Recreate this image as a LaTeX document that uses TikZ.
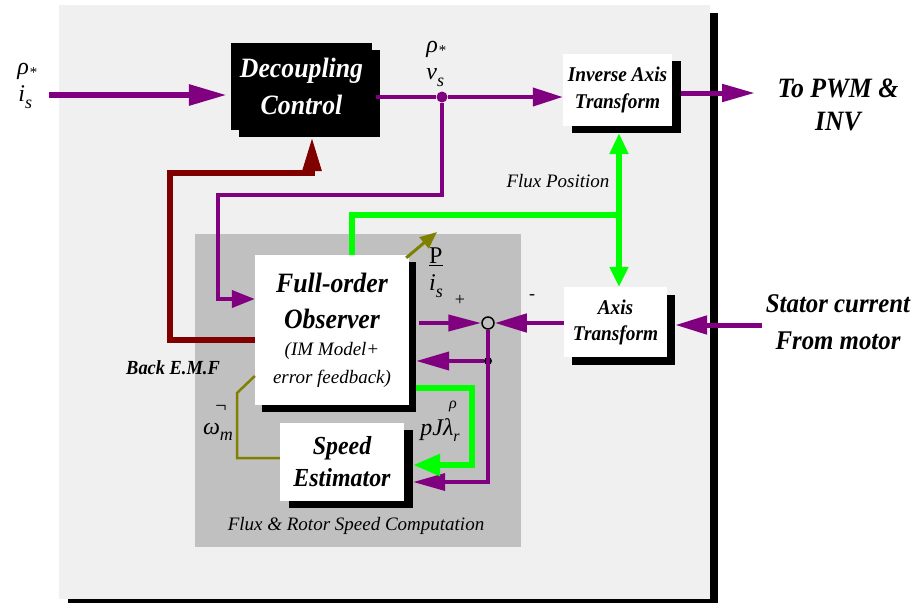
\documentclass[tikz,border=0pt]{standalone}
\usepackage{fontspec}
\setmainfont{Liberation Serif}
\newfontfamily\bfc[FakeStretch=0.92]{Liberation Serif}
\usetikzlibrary{arrows.meta,shadows}
\definecolor{pur}{HTML}{800080}
\definecolor{dred}{HTML}{800000}
\definecolor{lgreen}{HTML}{00FF00}
\definecolor{olv}{HTML}{808000}
\definecolor{panel}{HTML}{F0F0F0}
\definecolor{innergray}{HTML}{C0C0C0}
\newcommand\fbi[2]{\bfc\bfseries\itshape\fontsize{#1}{#2}\selectfont}
\newcommand\fitl[2]{\rmfamily\mdseries\itshape\fontsize{#1}{#2}\selectfont}
\begin{document}
\begin{tikzpicture}[x=1pt,y=-1pt,
  box/.style={fill=white, inner sep=0pt, align=center, text=black},
  sh/.style 2 args={general shadow={fill=black, shadow xshift=#1, shadow yshift=#2}},
  lab/.style={inner sep=0pt, align=left, font=\fitl{24}{27}},
  purline/.style={draw=pur, line width=#1},
]
\useasboundingbox (0,0) rectangle (919,603);
\fill[white] (0,0) rectangle (919,603);
% panel
\fill[black] (68,13) rectangle (718,603);
\fill[panel] (59,5) rectangle (710,599);
\fill[innergray] (195,234) rectangle (521,547);

% blocks
\node[box, fill=black, text=white, minimum width=141pt, minimum height=87pt, sh={8pt}{-7pt}, font=\fbi{28}{37}] (dc) at (301.5,86.5) {Decoupling\\Control};
\node[box, minimum width=109pt, minimum height=72pt, sh={9pt}{-7pt}, font=\fbi{21}{27}] (iat) at (617.5,90) {Inverse Axis\\Transform};
\node[box, minimum width=103pt, minimum height=70pt, sh={8pt}{-8pt}, font=\fbi{21}{26}] (at) at (615.5,322) {Axis\\Transform};
\node[box, minimum width=154pt, minimum height=150pt, sh={7pt}{-7pt}, font=\fbi{28}{36}] (fo) at (332,330) {Full-order\\Observer\\[-9pt]{\fitl{19}{28}(IM Model+}\\[-8pt]{\fitl{19}{28}error feedback)}};
\node[box, minimum width=124pt, minimum height=78pt, sh={9pt}{-7pt}, font=\fbi{26}{32}] (se) at (342,462) {Speed\\Estimator};

\node[circle, draw=black, line width=1.5pt, minimum size=12pt, inner sep=0pt] (sum) at (488,323) {};
\node[circle, fill=black, minimum size=8pt, inner sep=0pt] (jd) at (488,361) {};
\node[circle, fill=pur, minimum size=11pt, inner sep=0pt] (vd) at (442,97) {};

% texts
\node[font=\fitl{19}{24}] (fp) at (558,181) {Flux Position};
\node[font=\fbi{20}{24}] (bemf) at (173,368) {Back E.M.F};
\node[font=\fitl{19}{24}] (frs) at (356,526) {Flux \& Rotor Speed Computation};
\node[font=\fbi{28}{33}, align=center] (pwm) at (838,105) {To PWM \&\\INV};
\node[font=\fbi{27}{37}, align=center] (stc) at (838,322) {Stator current\\From motor};
\node[font=\rmfamily\fontsize{18}{18}\selectfont] (pl) at (460,300) {+};
\node[font=\rmfamily\fontsize{18}{18}\selectfont] (mi) at (532,297) {-};

\node[lab] (lis) at (27,86) {ρ\raisebox{-3pt}{\fontsize{15}{15}\selectfont *}\\\kern1pt i\raisebox{-7pt}{\fontsize{18}{18}\selectfont s}};
\node[lab] (lvs) at (436,64) {ρ\raisebox{-3pt}{\fontsize{15}{15}\selectfont *}\\v\raisebox{-7pt}{\fontsize{18}{18}\selectfont s}};
\node[lab] (lhis) at (436,273) {\upshape\underline{P}\\i\raisebox{-7pt}{\fontsize{18}{18}\selectfont s}};
\node[lab] (lwm) at (218,432) {ω\raisebox{-6pt}{\fontsize{18}{18}\selectfont m}};
\node[inner sep=0pt, font=\rmfamily\fontsize{20}{20}\selectfont] (lwmh) at (221,409) {¬};
\node[lab] (lpj) at (440,430) {pJλ\raisebox{-6pt}{\fontsize{16}{16}\selectfont r}};
\node[inner sep=0pt, font=\fitl{16}{16}] (lpjr) at (453,406) {ρ};

% connectors
\coordinate (inp) at (49,95);
\draw[purline=6pt, -{Triangle[length=38pt,width=20pt]}] (inp) -- ([xshift=-4pt]dc.west |- inp);
\draw[purline=4pt] ([xshift=4pt]dc.east |- vd) -- (vd);
\draw[purline=4pt, -{Triangle[length=30pt,width=18pt]}] (vd) -- (iat.west |- vd);
\coordinate (v1) at (442,195);
\coordinate (v2) at (218,195);
\coordinate (v3) at (218,299);
\draw[purline=4pt, -{Triangle[length=23pt,width=17pt]}] (vd) -- (v1) -- (v2) -- (v3) -- (fo.west |- v3);

\coordinate (r1) at (170,340);
\coordinate (r2) at (170,173);
\coordinate (r3) at (312,173);
\draw[dred, line width=6pt, -{Triangle[length=34pt,width=18pt]}] (fo.west |- r1) -- (r1) -- (r2) -- (r3) -- ([yshift=-7pt]dc.south -| r3);

\coordinate (pwmin) at (755,93);
\draw[purline=5pt, -{Triangle[length=33pt,width=17pt]}] ([xshift=9pt]iat.east |- pwmin) -- (pwmin);

\coordinate (gj) at (619,215);
\draw[lgreen, line width=5.5pt, {Triangle[length=21pt,width=18pt]}-{Triangle[length=20pt,width=18pt]}] ([yshift=-7pt]iat.south -| gj) -- (at.north -| gj);
\draw[lgreen, line width=6pt] (gj) -| ([xshift=20pt]fo.north);

\draw[purline=4pt, -{Triangle[length=33pt,width=16pt]}] ([xshift=10pt]fo.east |- sum) -- (sum.west);
\draw[purline=4.5pt, -{Triangle[length=32pt,width=18pt]}] (at.west |- sum) -- (sum.east);
\coordinate (stin) at (762,325);
\draw[purline=5pt, -{Triangle[length=32pt,width=18pt]}] (stin) -- ([xshift=8pt]at.east |- stin);

\coordinate (p1) at (488,482);
\draw[purline=3.5pt, -{Triangle[length=32pt,width=17pt]}] (sum.south) -- (p1) -- ([xshift=9pt]se.east |- p1);
\draw[purline=4pt, -{Triangle[length=33pt,width=18pt]}] (jd) -- ([xshift=7pt]fo.east |- jd);

\coordinate (g1) at (472,388);
\coordinate (g2) at (472,465);
\draw[lgreen, line width=6pt, -{Triangle[length=27pt,width=21pt]}] ([xshift=7pt]fo.east |- g1) -- (g1) -- (g2) -- ([xshift=9pt]se.east |- g2);

\coordinate (o1) at (237,458);
\coordinate (o2) at (237,393);
\draw[olv, line width=2.5pt] ([yshift=4pt]se.west) -- (o1) -- (o2) -- ([yshift=-46pt]fo.west);
\coordinate (oa) at (437,232);
\draw[olv, line width=3pt, -{Triangle[length=17pt,width=14pt]}] ([shift={(-3pt,-3pt)}]fo.north east) -- (oa);
\end{tikzpicture}
\end{document}
